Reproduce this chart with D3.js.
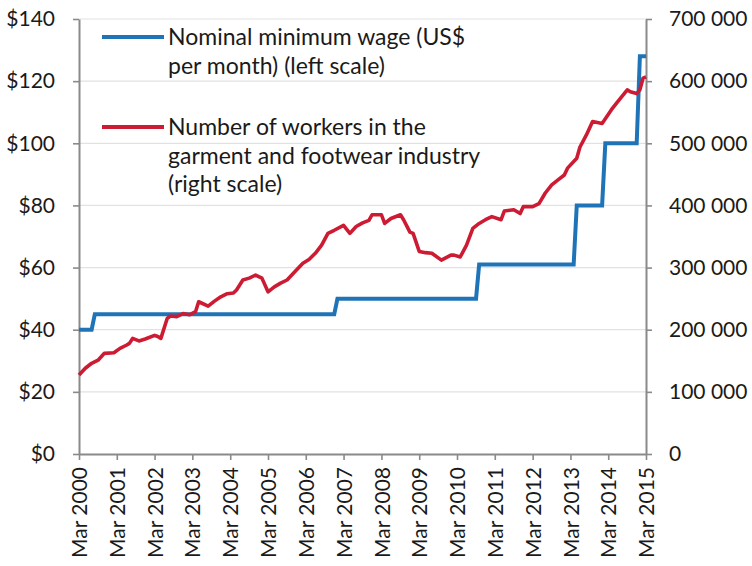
<!DOCTYPE html>
<html>
<head>
<meta charset="utf-8">
<script src="https://cdn.jsdelivr.net/npm/d3@7"></script>
<style>
  body { margin: 0; background: #fff; }
  text { font-family: Lato, "Open Sans", sans-serif; fill: #1a1a1a; }
</style>
</head>
<body>
<script>
const WIDTH = 752;
const HEIGHT = 566;

// Plot frame, in pixels.
const LEFT = 79, RIGHT = 646, TOP = 19, BOTTOM = 454;

// Nominal minimum wage, US$ per month (change points, left scale).
const wageMonths = ['2000-03', '2000-07', '2000-08', '2006-12', '2007-01', '2010-09', '2010-10',
    '2013-04', '2013-05', '2014-01', '2014-02', '2014-12', '2015-01', '2015-03'];
const wageValues = [40, 40, 45, 45, 50, 50, 61, 61, 80, 80, 100, 100, 128, 128];

// Workers in garment and footwear industry (right scale).
const workerMonths = ['2000-03', '2000-05', '2000-07', '2000-09', '2000-11', '2001-02', '2001-04',
    '2001-06', '2001-07', '2001-08', '2001-10', '2001-12', '2002-03', '2002-04', '2002-05', '2002-07',
    '2002-08', '2002-10', '2002-12', '2003-02', '2003-04', '2003-05', '2003-08', '2003-10', '2003-12',
    '2004-02', '2004-04', '2004-05', '2004-07', '2004-09', '2004-11', '2005-01', '2005-03', '2005-05',
    '2005-07', '2005-09', '2005-12', '2006-02', '2006-04', '2006-06', '2006-08', '2006-10', '2006-12',
    '2007-03', '2007-05', '2007-07', '2007-09', '2007-11', '2007-12', '2008-03', '2008-04', '2008-06',
    '2008-09', '2008-10', '2008-12', '2009-01', '2009-03', '2009-05', '2009-07', '2009-10', '2010-01',
    '2010-02', '2010-04', '2010-06', '2010-08', '2010-10', '2010-12', '2011-02', '2011-05', '2011-06',
    '2011-09', '2011-11', '2011-12', '2012-03', '2012-05', '2012-07', '2012-09', '2012-11', '2013-01',
    '2013-02', '2013-05', '2013-06', '2013-08', '2013-10', '2014-01', '2014-04', '2014-06', '2014-09',
    '2014-10', '2014-12', '2015-01', '2015-02', '2015-03'];
const workerValues = [127000, 138000, 146000, 151000, 162000, 163000, 170000,
    175000, 178000, 186000, 182000, 185000, 191000, 189000, 186000, 218000,
    222000, 221000, 226000, 224000, 229000, 245000, 238000, 246000, 253000,
    258000, 259000, 264000, 280000, 283000, 288000, 283000, 261000, 269000,
    275000, 280000, 296000, 307000, 313000, 323000, 336000, 355000, 360000,
    368000, 355000, 366000, 372000, 376000, 385000, 385000, 371000, 379000,
    385000, 377000, 357000, 355000, 326000, 324000, 323000, 312000, 320000,
    320000, 317000, 336000, 363000, 371000, 377000, 382000, 377000, 391000,
    393000, 387000, 398000, 398000, 403000, 420000, 433000, 441000, 449000,
    460000, 476000, 494000, 513000, 535000, 532000, 554000, 567000, 586000,
    583000, 580000, 586000, 605000, 607000];

const tickYears = d3.range(2000, 2016);
const leftTicks = [0, 20, 40, 60, 80, 100, 120, 140];
const rightTicks = [0, 100000, 200000, 300000, 400000, 500000, 600000, 700000];

const legendLabels = [
    ['Nominal minimum wage (US$', 'per month) (left scale)'],
    ['Number of workers in the', 'garment and footwear industry', '(right scale)']
];

const BLUE = '#1f74b7';
const RED = '#cc1b33';
const AXIS_COLOR = '#8a8a8a';
const GRID_COLOR = '#e2e2e2';

const parseMonth = d3.timeParse('%Y-%m');
const wage = wageMonths.map((m, i) => ({ date: parseMonth(m), value: wageValues[i] }));
const workers = workerMonths.map((m, i) => ({ date: parseMonth(m), value: workerValues[i] }));

const x = d3.scaleTime()
    .domain([new Date(2000, 2, 1), new Date(2015, 2, 1)])
    .range([LEFT, RIGHT]);
const yLeft = d3.scaleLinear().domain([0, 140]).range([BOTTOM, TOP]);
const yRight = d3.scaleLinear().domain([0, 700000]).range([BOTTOM, TOP]);

const svg = d3.select('body')
    .append('svg')
    .attr('width', WIDTH)
    .attr('height', HEIGHT);

// Gridlines.
svg.append('g')
    .selectAll('line')
    .data(leftTicks.filter(t => t > 0))
    .join('line')
    .attr('x1', LEFT)
    .attr('x2', RIGHT)
    .attr('y1', d => yLeft(d))
    .attr('y2', d => yLeft(d))
    .style('stroke', GRID_COLOR)
    .style('stroke-width', 1.2);

// Axes.
const fmtThousands = d => d === 0 ? '0' : d3.format(',')(d).replace(/,/g, ' ');

function styleAxis(g) {
    g.select('.domain').style('stroke', AXIS_COLOR).style('stroke-width', 2);
    g.selectAll('.tick line').style('stroke', AXIS_COLOR).style('stroke-width', 1.6);
    g.selectAll('.tick text').style('font-size', '21px').style('fill', '#1a1a1a');
}

svg.append('g')
    .attr('transform', `translate(${LEFT},0)`)
    .call(d3.axisLeft(yLeft).tickValues(leftTicks).tickSize(6).tickSizeOuter(0).tickPadding(18)
        .tickFormat(d => '$' + d))
    .call(styleAxis);

svg.append('g')
    .attr('transform', `translate(${RIGHT},0)`)
    .call(d3.axisRight(yRight).tickValues(rightTicks).tickSize(6).tickSizeOuter(0).tickPadding(17)
        .tickFormat(fmtThousands))
    .call(styleAxis);

svg.append('g')
    .attr('transform', `translate(0,${BOTTOM})`)
    .call(d3.axisBottom(x).tickValues(tickYears.map(y => new Date(y, 2, 1))).tickSize(6).tickSizeOuter(0)
        .tickFormat(d3.timeFormat('Mar %Y')))
    .call(styleAxis)
    .call(g => g.selectAll('.tick text')
        .attr('transform', 'rotate(-90)')
        .attr('text-anchor', 'end')
        .attr('x', -13)
        .attr('y', 0)
        .attr('dy', '0.36em'));

// Lines. Wage first, workers (secondary axis) drawn on top like the original.
const lines = svg.append('g');
lines.append('path')
    .datum(wage)
    .attr('d', d3.line().x(d => x(d.date)).y(d => yLeft(d.value)))
    .style('fill', 'none')
    .style('stroke', BLUE)
    .style('stroke-width', 4)
    .style('stroke-linejoin', 'miter');

lines.append('path')
    .datum(workers)
    .attr('d', d3.line().x(d => x(d.date)).y(d => yRight(d.value)))
    .style('fill', 'none')
    .style('stroke', RED)
    .style('stroke-width', 3.6)
    .style('stroke-linejoin', 'round');

// Legend.
const legendRows = [
    { color: BLUE, lines: legendLabels[0], y: 37 },
    { color: RED, lines: legendLabels[1], y: 127 }
];
const legend = svg.append('g')
    .selectAll('g')
    .data(legendRows)
    .join('g')
    .attr('transform', d => `translate(0,${d.y})`);

legend.append('line')
    .attr('x1', 102)
    .attr('x2', 164)
    .style('stroke', d => d.color)
    .style('stroke-width', 4);

legend.append('text')
    .attr('x', 168)
    .style('font-size', '23px')
    .selectAll('tspan')
    .data(d => d.lines)
    .join('tspan')
    .attr('x', 168)
    .attr('y', (d, i) => i * 28.5)
    .attr('dy', '0.35em')
    .text(d => d);
</script>
</body>
</html>
